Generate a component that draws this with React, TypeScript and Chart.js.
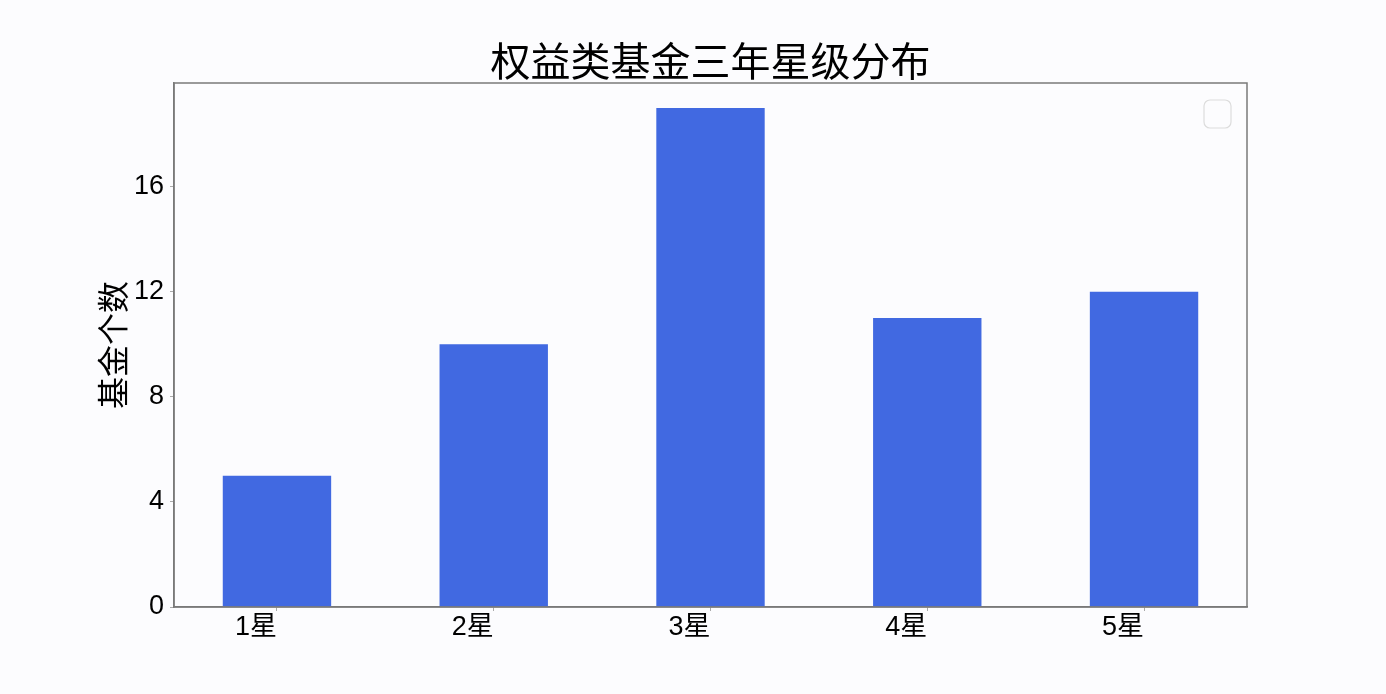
import { useEffect, useRef } from "react";
import Chart from "chart.js/auto";

// 数据
const categories = ["1星", "2星", "3星", "4星", "5星"];
const fundCounts = [5, 10, 19, 11, 12];
const yTicks = [0, 4, 8, 12, 16];

const titleText = "权益类基金三年星级分布";
const yTitle = "基金个数";

const cjk = "'Liberation Sans', 'Noto Sans CJK SC', sans-serif";

// 外框 + 空图例框
const framePlugin = {
  id: "frame",
  afterDraw(chart: any) {
    const { ctx, chartArea } = chart;
    const { left, top, right, bottom } = chartArea;
    ctx.save();
    ctx.strokeStyle = "#7a7a7a";
    ctx.lineWidth = 1.5;
    ctx.strokeRect(left, top, right - left, bottom - top);

    // 空的图例
    ctx.strokeStyle = "#dcdcdc";
    ctx.lineWidth = 1.2;
    ctx.beginPath();
    ctx.roundRect(right - 43, top + 17, 27, 28, 6);
    ctx.stroke();
    ctx.restore();
  },
};

export default function App() {
  const canvasRef = useRef<HTMLCanvasElement>(null);
  const chartRef = useRef<Chart | null>(null);

  useEffect(() => {
    if (!canvasRef.current) return;
    if (chartRef.current) chartRef.current.destroy();

    chartRef.current = new Chart(canvasRef.current, {
      type: "bar",
      data: {
        datasets: [
          {
            label: "",
            data: fundCounts.map((v, i) => ({ x: i, y: v })),
            backgroundColor: "#4169e1",
            barPercentage: 0.5,
            categoryPercentage: 1,
          },
        ],
      },
      options: {
        animation: false,
        responsive: true,
        maintainAspectRatio: false,
        layout: {
          padding: { left: 98, right: 139, top: 0, bottom: 0 },
        },
        plugins: {
          legend: { display: false },
          tooltip: { enabled: false },
          title: {
            display: true,
            fullSize: false,
            text: titleText,
            color: "#000",
            font: { family: cjk, size: 40, weight: "normal", lineHeight: 0.8 },
            padding: { top: 49, bottom: 2 },
          },
        },
        scales: {
          x: {
            type: "linear",
            offset: false,
            min: -0.475,
            max: 4.475,
            afterFit: (scale: any) => {
              scale.height = 87;
            },
            ticks: {
              stepSize: 1,
              includeBounds: false,
              align: "end",
              padding: 0,
              color: "#000",
              font: { family: cjk, size: 27 },
              callback: (v: any) => categories[v] ?? "",
            },
            grid: {
              display: true,
              offset: false,
              drawOnChartArea: false,
              tickLength: 4,
              tickColor: "#aaa",
            },
            border: { display: true, color: "#7a7a7a", width: 1.5 },
          },
          y: {
            min: 0,
            max: 19.95,
            afterFit: (scale: any) => {
              scale.width = 76;
            },
            afterBuildTicks: (scale: any) => {
              scale.ticks = yTicks.map((v) => ({ value: v }));
            },
            title: {
              display: true,
              text: yTitle,
              color: "#000",
              font: { family: cjk, size: 32, lineHeight: 1 },
              padding: { top: 2, bottom: 0 },
            },
            ticks: {
              padding: 6,
              color: "#000",
              font: { family: cjk, size: 27 },
            },
            grid: {
              display: true,
              drawOnChartArea: false,
              tickLength: 4,
              tickColor: "#aaa",
            },
            border: { display: true, color: "#7a7a7a", width: 1.5 },
          },
        },
      },
      plugins: [framePlugin],
    });

    return () => {
      if (chartRef.current) {
        chartRef.current.destroy();
        chartRef.current = null;
      }
    };
  }, []);

  return (
    <div
      style={{
        position: "fixed",
        left: 0,
        top: 0,
        width: 1386,
        height: 694,
        background: "#fcfcfe",
      }}
    >
      <canvas ref={canvasRef} />
    </div>
  );
}
